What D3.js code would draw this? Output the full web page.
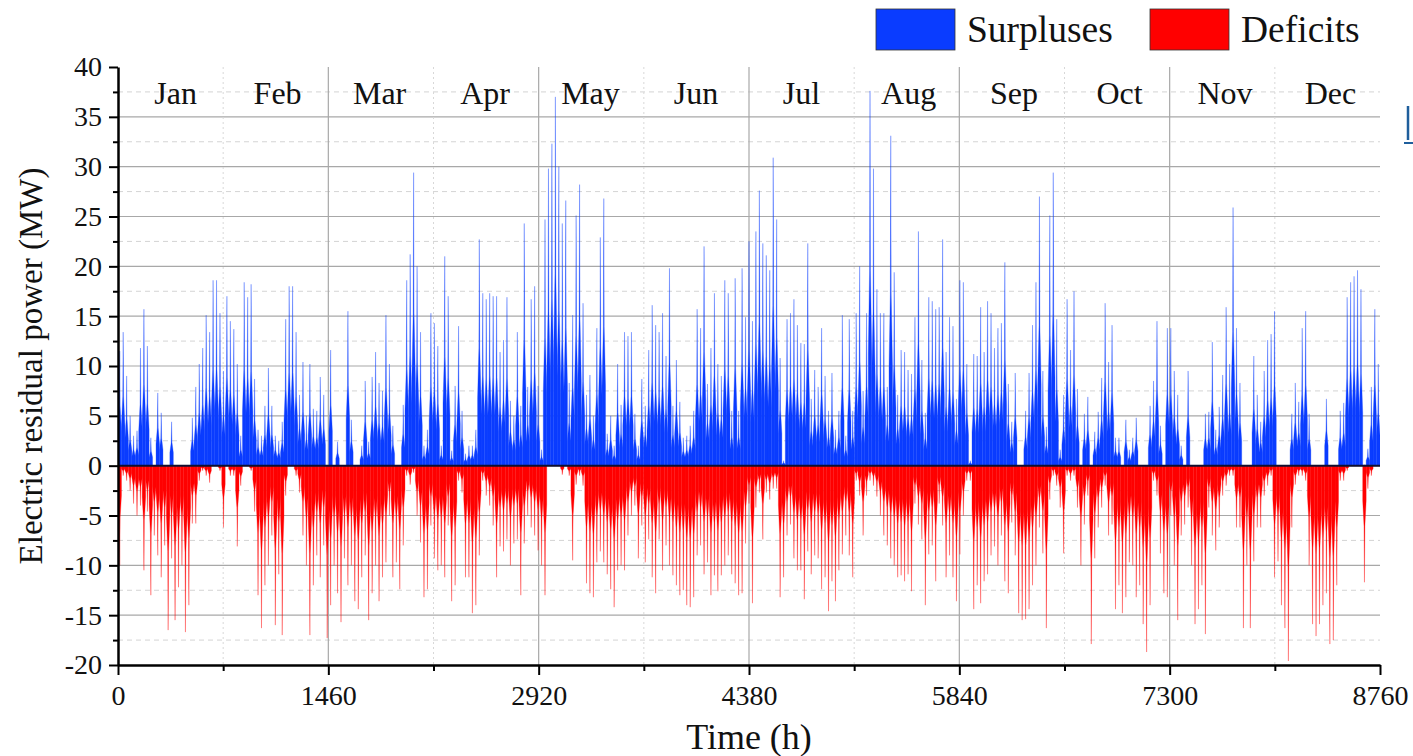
<!DOCTYPE html>
<html><head><meta charset="utf-8">
<script src="https://cdn.jsdelivr.net/npm/d3@7"></script>
<style>
body{margin:0;background:#fff;}
svg{display:block;font-family:"Liberation Serif","Times New Roman",serif;}
</style>
</head><body><svg id="c" width="1413" height="756"></svg>
<script>
// Daily peak surplus (MW), day 0..364
const surplus = [
11.5,13.4,9,5,3,3.5,11.8,15.7,12,2.8,
0,7.3,5.3,0,0,4.4,0,0,0,0,
0,4.8,7.9,10.2,11.8,15.1,13.4,18.6,18.6,15.3,
9.5,17,14.5,13.7,10.2,3,18.4,16.9,18.2,8.7,
3.6,3,6,9.8,6,3,2.5,4.4,14.7,18,
18,13.4,7.1,10.4,5,10.2,5.7,5.5,8.9,7.1,
0,11.6,0,2.4,0,0,15.5,4.6,0,0,
2,8.5,2.4,8.9,11.4,8.3,7.5,15.1,10.2,4,
0,0,6.1,18.6,21.2,29.4,20,13.4,2,3.6,
15.3,14.3,12,2,21,17,1.5,8,14,5.5,
1.2,2,2,3.6,22.7,17.3,16.7,17.3,17,17,
11.4,12.6,16.9,6.5,5,13.4,6,24.3,7.9,16.7,
18,8,1.6,24.7,29.8,32.3,37,30,24.3,26.6,
8.3,15.1,25.1,28.2,16.3,7.1,9.1,5,13.8,22.9,
26.8,3.2,5,2,10.2,6.1,13.4,13,13.4,5.2,
2,8.7,6,11.6,16.1,14.1,13.4,15.3,11,19.8,
6,10.6,6.4,2.8,3,4,5.5,15.7,13.8,22,
8.2,11.8,17.3,10.2,9,18.6,17.3,5.5,18.8,5.5,
19.8,14.9,22.5,14.5,23.5,27.6,22.3,21.1,19.6,30.9,
24.7,10.8,0.5,14.7,15.3,16.7,14.1,12.3,12.2,22.3,
6.7,9.6,7.9,13.8,9,5.5,9.3,3.6,5.5,15.1,
3,14.7,5.5,15.3,20,7.5,15.3,37.6,29.8,17.7,
15.3,15.3,7.9,33.1,19.4,7.1,11.6,11.4,9.6,9.2,
14.9,23.5,10.6,5.3,16.9,16.5,15.7,15.9,22.7,11.4,
14.9,14,6.7,18.6,18.4,10.2,0.5,11.2,11,15.9,
11.4,16.5,15.3,11.8,13.8,14.3,20.4,8.2,4.4,9.3,
0,0,5.5,9.3,14.1,18.4,27,9.5,3.9,25.1,
29.4,14.7,1.6,7.1,16.7,11.6,17.5,7.7,0,5.2,
6.9,0,3.4,5.4,8.8,16.3,10.4,14.1,2.8,2.8,
0,4.6,1.6,2.8,4.8,0,0,0,6,8.5,
14.5,4,0,13.8,13.8,9.5,7.1,2,0,9.5,
0,0,0,0,5.2,5.4,12.4,3.6,5.9,9.1,
15.9,10.2,25.9,13.8,8.3,0,0,0,11,7.1,
4.4,9.5,12.6,13.2,15.5,0,0,0,0,5.2,
8.3,6.4,13.8,15.5,5.2,0,0,0,0,6.7,
0,0,0,5.5,6.3,16.9,18.4,19,19.6,17.7,
0.1,1.7,7.9,15.7,10.2
];
// Daily peak deficit (MW, negative), day 0..364
const deficit = [
-10,-1,-1.5,-2.5,-3.8,-5,-4,-10.5,-4.6,-13,
-7,-9,-11.2,-8,-16.5,-9.3,-15.5,-12.2,-10,-16.7,
-14,-5.8,-5.8,-1.5,-0.5,-1,-1.7,0,0,-0.5,
-6.2,0,-1,-1,-8.1,-2,0,0,-0.5,-4.6,
-13,-16.3,-12,-10,-7,-16,-10.9,-17,-3,0,
0,-1,-2.7,-7,-10,-17,-12,-9,-11.2,-8,
-17.3,-14,-10,-12.8,-15.7,-9.3,-12,-10,-13.6,-14.4,
-11.2,-9,-15.5,-12.8,-10,-13.6,-11.2,-9.7,-5,-11.2,
-9.7,-12.4,-8,-1,-1.9,-0.7,-5,-7.7,-13.2,-12.4,
-6,-9.3,-10.5,-10,-11.2,-6,-13.6,-12,-1.5,-2.7,
-11.2,-11.2,-14.8,-14,-9,-1.5,-3,-4,-6,-11.2,
-8.1,-8.6,-7.4,-10,-7.8,-7.4,-13,-7.8,-5,-6.2,
-7,-8.5,-10,-13,0,0,0,0,-0.9,0,
-1,-9.5,-1.9,-1,-2,-11.8,-12.8,-13.2,-9.7,-8.6,
-9.7,-10.9,-12.4,-14.2,-10.5,-10,-10.5,-7,-5,-4,
-9.3,-6,-9.7,-7.4,-11.2,-12.8,-7.4,-10.5,-8,-10,
-11,-12,-13,-12.5,-14,-14.2,-13.2,-9,-8,-10.9,
-9.7,-13,-11,-12.6,-11,-10,-9,-10.9,-11.8,-13,
-12.8,-7.8,-3.8,-13.8,-4.2,-2.7,-7.4,-2.7,-3.4,-2.3,
-2.3,-13.2,-11.2,-7,-5.9,-9.3,-10.5,-10.5,-13.4,-8.6,
-10.9,-9,-9.3,-12.4,-11.2,-14.6,-11.6,-13.6,-10.5,-8.9,
-7,-9,-11.2,-1.5,-3,-7,-3,-1.5,-2,-3.1,
-5,-7,-8,-9.3,-10,-11.2,-11,-11.6,-10.9,-12.6,
-3.8,-5.9,-7.4,-14,-8.9,-8,-11.6,-3.8,-6,-11.2,
-9,-11.2,-13.6,-8.9,-5,-1.5,-1.5,-14.4,-12,-13.8,
-11.6,-10.9,-9,-8.1,-10,-7,-11.6,-12.8,-5.7,-9,
-14.8,-15.5,-15.4,-14.4,-12,-10,-6.2,-8.8,-16.3,-3.4,
-1,-2,-4.2,-8.8,-1,-1.5,-1,-4.2,-10,-5.9,
-3,-17.9,-9.3,-6.2,-4.2,-2,-7,-5.9,-14.4,-12,
-14.8,-13.2,-9.7,-10,-13.2,-12,-15.9,-18.7,-14,-1.5,
-3,-8.8,-12.8,-13.2,-5,-10,-15.5,-7,-5.9,-4.2,
-10,-15.9,-14.4,-12,-16.9,-4.2,-7,-8.5,-6.2,-3,
-2,-1,-1,-6.2,-6.2,-16.3,-10,-16.3,-9.6,-6.2,
-6.2,-3,-2,-1,-11.2,-9.6,-14,-16.3,-19.6,-6.2,
-1.9,-1,-1,-1.5,-10,-15.9,-17.1,-15.9,-14,-12.8,
-17.9,-17.5,-12,-1.5,-1.5,-0.5,0,0,0,0,
-11.7,-2.3,-1,0,0
];
const months = ["Jan","Feb","Mar","Apr","May","Jun","Jul","Aug","Sep","Oct","Nov","Dec"];
const monthStartHours = [0,744,1416,2160,2880,3624,4344,5088,5832,6552,7296,8016,8760];
const xTicks = [0,1460,2920,4380,5840,7300,8760];
const xMinorTicks = [730,2190,3650,5110,6570,8030];
const yTicks = [-20,-15,-10,-5,0,5,10,15,20,25,30,35,40];
const yMinorTicks = [-17.5,-12.5,-7.5,-2.5,2.5,7.5,12.5,17.5,22.5,27.5,32.5,37.5];
const legendItems = [{name:"Surpluses", color:"#0a3cff"},{name:"Deficits", color:"#ff0000"}];

const BLUE = "#0a3cff", RED = "#ff0000";
const svg = d3.select("#c");
const L = 118, R = 1380, T = 67, B = 665;
const x = d3.scaleLinear().domain([0, 8760]).range([L, R]);
const y = d3.scaleLinear().domain([-20, 40]).range([B, T]);

// grid
const grid = svg.append("g");
grid.selectAll(".hmin").data(yMinorTicks).join("line")
  .attr("x1", L).attr("x2", R).attr("y1", d => y(d)).attr("y2", d => y(d))
  .attr("stroke", "#d4d4d4").attr("stroke-width", 1).attr("stroke-dasharray", "5,4");
grid.selectAll(".hmaj").data(yTicks.filter(d => d > -20 && d < 40)).join("line")
  .attr("x1", L).attr("x2", R).attr("y1", d => y(d)).attr("y2", d => y(d))
  .attr("stroke", "#a8a8a8").attr("stroke-width", 1.2);
grid.selectAll(".vmin").data(xMinorTicks).join("line")
  .attr("x1", d => x(d)).attr("x2", d => x(d)).attr("y1", T).attr("y2", B)
  .attr("stroke", "#d8d8d8").attr("stroke-width", 1).attr("stroke-dasharray", "2,3");
grid.selectAll(".vmaj").data(xTicks.filter(d => d > 0 && d < 8760)).join("line")
  .attr("x1", d => x(d)).attr("x2", d => x(d)).attr("y1", T).attr("y2", B)
  .attr("stroke", "#a8a8a8").attr("stroke-width", 1.2);

// bars: each day drawn as a narrow spike over its 24 hours
svg.append("clipPath").attr("id", "clip").append("rect")
  .attr("x", L).attr("y", T).attr("width", R - L).attr("height", B - T);
const data = surplus.map((b, i) => ({ day: i, b: b, r: deficit[i] }));
const line = d3.line().x(p => x(p[0])).y(p => y(p[1]));
function spike(day, v) {
  const h0 = day * 24, h1 = Math.min(8760, day * 24 + 24);
  return line([[h0, 0], [h0, v * 0.3], [h0 + 9, v * 0.52], [h0 + 12, v], [h0 + 15, v * 0.52], [h1, v * 0.3], [h1, 0]]) + "Z";
}
const bars = svg.append("g").attr("clip-path", "url(#clip)");
bars.selectAll(".s").data(data.filter(d => d.b > 0)).join("path")
  .attr("d", d => spike(d.day, d.b)).attr("fill", BLUE)
  .attr("stroke", BLUE).attr("stroke-width", 0.3);
bars.selectAll(".d").data(data.filter(d => d.r < 0)).join("path")
  .attr("d", d => spike(d.day, d.r)).attr("fill", RED)
  .attr("stroke", RED).attr("stroke-width", 0.3);

// zero line
svg.append("line").attr("x1", L).attr("x2", R).attr("y1", y(0)).attr("y2", y(0))
  .attr("stroke", "#101030").attr("stroke-width", 2);

// axes
function styleAxis(g) {
  g.select(".domain").attr("stroke", "#000").attr("stroke-width", 2.5);
  g.selectAll(".tick line").attr("stroke", "#000").attr("stroke-width", 2);
  g.selectAll(".tick text").attr("fill", "#111").attr("font-size", 28)
   .attr("font-family", "Liberation Serif, Times New Roman, serif");
}
const yAxis = svg.append("g").attr("transform", `translate(${L},0)`)
  .call(d3.axisLeft(y).tickValues(yTicks).tickSize(9).tickSizeOuter(0).tickPadding(7).tickFormat(d => String(d)));
styleAxis(yAxis);
const yMinor = svg.append("g").attr("transform", `translate(${L},0)`)
  .call(d3.axisLeft(y).tickValues(yMinorTicks).tickSize(5).tickFormat(""));
styleAxis(yMinor); yMinor.select(".domain").remove();

const xAxis = svg.append("g").attr("transform", `translate(0,${B})`)
  .call(d3.axisBottom(x).tickValues(xTicks).tickSize(10).tickSizeOuter(0).tickPadding(10).tickFormat(d => String(d)));
styleAxis(xAxis);
const xMinor = svg.append("g").attr("transform", `translate(0,${B})`)
  .call(d3.axisBottom(x).tickValues(xMinorTicks).tickSize(6).tickFormat(""));
styleAxis(xMinor); xMinor.select(".domain").remove();

// month labels
svg.append("g").selectAll("text").data(months).join("text")
  .attr("x", (m, i) => x((monthStartHours[i] + monthStartHours[i + 1]) / 2) + 4)
  .attr("y", 104).attr("text-anchor", "middle").attr("font-size", 32).attr("fill", "#111")
  .text(m => m);

// axis titles
svg.append("text").attr("x", x(4380)).attr("y", 749).attr("text-anchor", "middle")
  .attr("font-size", 36).attr("fill", "#111").text("Time (h)");
svg.append("text").attr("transform", "translate(42,366) rotate(-90)").attr("text-anchor", "middle")
  .attr("font-size", 33).attr("fill", "#111").text("Electric residual power (MW)");

// legend
const lg = svg.append("g");
const lx = [876, 1150];
legendItems.forEach((it, i) => {
  lg.append("rect").attr("x", lx[i]).attr("y", 9).attr("width", 79).attr("height", 41)
    .attr("fill", it.color).attr("stroke", "#333").attr("stroke-width", 0.8);
  lg.append("text").attr("x", lx[i] + 91).attr("y", 42).attr("font-size", 37.5).attr("fill", "#111").text(it.name);
});

// cropped link fragment at right edge
svg.append("line").attr("x1", 1408).attr("x2", 1408).attr("y1", 106).attr("y2", 140)
  .attr("stroke", "#1f5e9c").attr("stroke-width", 2.5);
svg.append("line").attr("x1", 1404).attr("x2", 1413).attr("y1", 143).attr("y2", 143)
  .attr("stroke", "#1f5e9c").attr("stroke-width", 2);
</script>
</body></html>
